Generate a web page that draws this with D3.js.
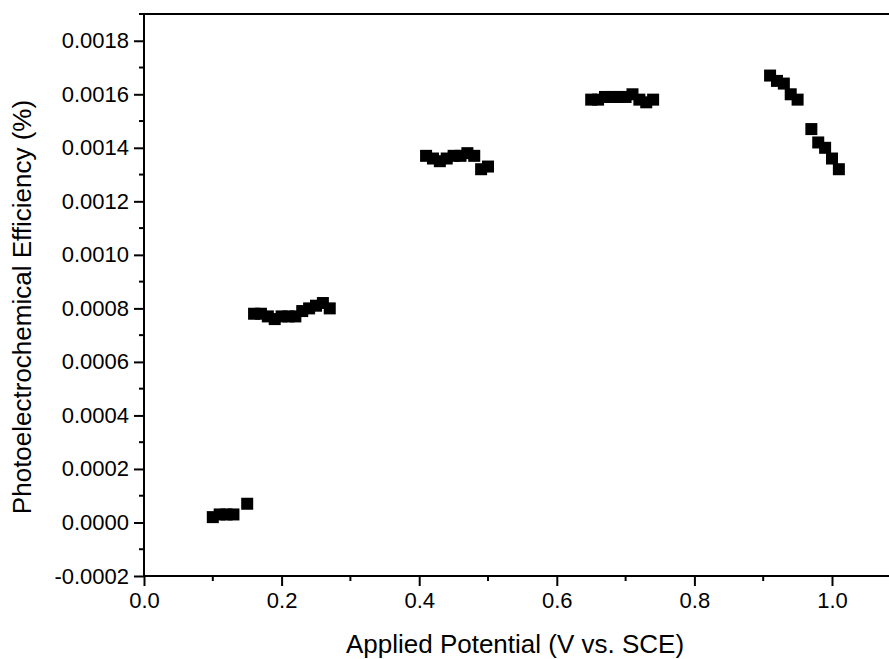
<!DOCTYPE html>
<html>
<head>
<meta charset="utf-8">
<script src="https://cdn.jsdelivr.net/npm/d3@7"></script>
<style>
  body { margin: 0; background: #fff; }
  text { font-family: "Liberation Sans", Arial, sans-serif; }
</style>
</head>
<body>
<div id="chart"></div>
<script>
// applied potential (V vs. SCE)
var potential = [0.10, 0.11, 0.12, 0.13, 0.15,
  0.16, 0.17, 0.18, 0.19, 0.20, 0.21, 0.22, 0.23, 0.24, 0.25, 0.26, 0.27,
  0.41, 0.42, 0.43, 0.44, 0.45, 0.46, 0.47, 0.48, 0.49, 0.50,
  0.65, 0.66, 0.67, 0.68, 0.69, 0.70, 0.71, 0.72, 0.73, 0.74,
  0.91, 0.92, 0.93, 0.94, 0.95, 0.97, 0.98, 0.99, 1.00, 1.01];
// photoelectrochemical efficiency (%)
var efficiency = [0.00002, 0.00003, 0.00003, 0.00003, 0.00007,
  0.00078, 0.00078, 0.00077, 0.00076, 0.00077, 0.00077, 0.00077, 0.00079, 0.00080, 0.00081, 0.00082, 0.00080,
  0.00137, 0.00136, 0.00135, 0.00136, 0.00137, 0.00137, 0.00138, 0.00137, 0.00132, 0.00133,
  0.00158, 0.00158, 0.00159, 0.00159, 0.00159, 0.00159, 0.00160, 0.00158, 0.00157, 0.00158,
  0.00167, 0.00165, 0.00164, 0.00160, 0.00158, 0.00147, 0.00142, 0.00140, 0.00136, 0.00132];
var xTicks = [0.0, 0.2, 0.4, 0.6, 0.8, 1.0];
var yTicks = [-0.0002, 0.0000, 0.0002, 0.0004, 0.0006, 0.0008, 0.0010, 0.0012, 0.0014, 0.0016, 0.0018];

var data = potential.map(function(p, i) { return {x: p, y: efficiency[i]}; });

var W = 889, H = 659;
var margin = {top: 14, right: 0, bottom: 83, left: 144},
  height = H - margin.top - margin.bottom;

var svg = d3.select("#chart").append("svg")
  .attr("width", W)
  .attr("height", H)
.append("g")
  .attr("transform", "translate(" + margin.left + "," + margin.top + ")");

// 1.0 V sits at 688px from the y axis; the frame runs past the right edge
var x = d3.scaleLinear().domain([0, 1.1]).range([0, 1.1 * 688]);
var y = d3.scaleLinear().domain([-0.0002, 0.0019]).range([height, 0]);

var xMinor = d3.range(0.1, 1.1, 0.2);
var yMinor = d3.range(-0.0001, 0.00191, 0.0002);

var fmtY = function(d) { return d3.format(".4f")(d).replace("\u2212", "-"); };

// x axis
var gx = svg.append("g")
  .attr("transform", "translate(0," + height + ")")
  .call(d3.axisBottom(x).tickValues(xTicks).tickFormat(d3.format(".1f")).tickSize(10).tickPadding(6));
svg.append("g").selectAll("line")
  .data(xMinor).enter().append("line")
  .attr("x1", function(d) { return x(d); }).attr("x2", function(d) { return x(d); })
  .attr("y1", height).attr("y2", height + 5)
  .attr("stroke", "#000").attr("stroke-width", 2);

// y axis
var gy = svg.append("g")
  .call(d3.axisLeft(y).tickValues(yTicks).tickFormat(fmtY).tickSize(10).tickPadding(5));
svg.append("g").selectAll("line")
  .data(yMinor).enter().append("line")
  .attr("x1", -5).attr("x2", 0)
  .attr("y1", function(d) { return y(d); }).attr("y2", function(d) { return y(d); })
  .attr("stroke", "#000").attr("stroke-width", 2);

[gx, gy].forEach(function(g) {
  g.select(".domain").remove();
  g.selectAll(".tick line").attr("stroke-width", 2);
  g.selectAll(".tick text").style("font-size", "22px").attr("fill", "#000");
});

// frame
svg.append("line").attr("x1", 0).attr("x2", 0).attr("y1", -1).attr("y2", height + 1)
  .attr("stroke", "#000").attr("stroke-width", 2);
svg.append("line").attr("x1", -1).attr("x2", W).attr("y1", height).attr("y2", height)
  .attr("stroke", "#000").attr("stroke-width", 2);
svg.append("line").attr("x1", -1).attr("x2", W).attr("y1", 0).attr("y2", 0)
  .attr("stroke", "#000").attr("stroke-width", 2);

// points
var s = 12;
svg.selectAll("rect.pt")
  .data(data).enter().append("rect")
  .attr("class", "pt")
  .attr("x", function(d) { return x(d.x) - s / 2; })
  .attr("y", function(d) { return y(d.y) - s / 2; })
  .attr("width", s).attr("height", s)
  .attr("fill", "#000");

// axis titles
svg.append("text")
  .attr("x", 371).attr("y", height + 77)
  .style("text-anchor", "middle").style("font-size", "26px")
  .text("Applied Potential (V vs. SCE)");
svg.append("text")
  .attr("transform", "translate(-113," + (height / 2 + 12) + ") rotate(-90)")
  .style("text-anchor", "middle").style("font-size", "26px")
  .text("Photoelectrochemical Efficiency (%)");
</script>
</body>
</html>
